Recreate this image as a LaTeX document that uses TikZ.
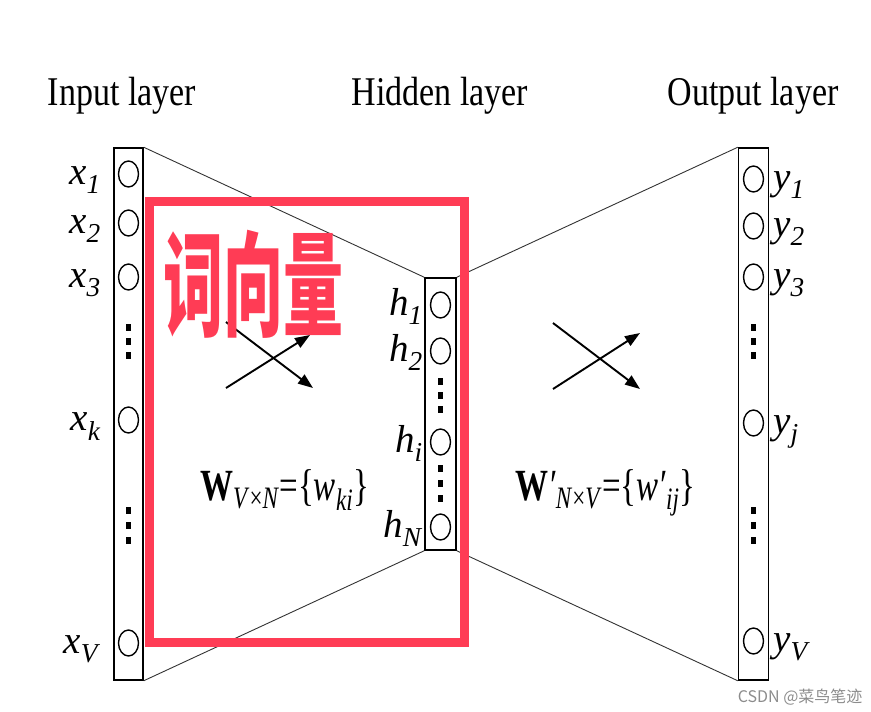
\documentclass[tikz,border=0pt]{standalone}
\usepackage{fontspec}
\setmainfont{Liberation Serif}
\newfontfamily\cjk{Noto Sans CJK SC}
\usetikzlibrary{shapes.geometric,arrows.meta}
\definecolor{markred}{RGB}{255,60,85}
\newcommand\nlbl[2]{\textit{#1}\textsubscript{\textit{#2}}}
\newcommand\stretched[2]{\scalebox{1}[#1]{#2}}
\begin{document}
\begin{tikzpicture}[
    x=1pt,y=-1pt,
    layer/.style={draw,line width=1.5pt,inner sep=0pt},
    unit/.style={draw,ellipse,line width=1.4pt,minimum width=20pt,minimum height=26pt,inner sep=0pt},
    vdot/.style={fill=black,minimum width=5.5pt,minimum height=7pt,inner sep=0pt},
    title/.style={font=\fontsize{34}{40}\selectfont,anchor=base},
    lbl/.style={font=\fontsize{39}{44}\selectfont,inner sep=0pt},
    wlbl/.style={font=\fontsize{33}{38}\selectfont,inner sep=0pt,anchor=base west},
    link/.style={black!80,line width=0.9pt},
    cross/.style={-{Triangle[length=15pt,width=11pt]},line width=1.9pt}
]
\useasboundingbox (0,0) rectangle (871,712);
% titles
\node[title] (tin) at (122,105) {\stretched{1.2}{Input layer}};
\node[title] (thid) at (440,105) {\stretched{1.2}{Hidden layer}};
\node[title] (tout) at (753,105) {\stretched{1.2}{Output layer}};
% layers
\node[layer,minimum width=29pt,minimum height=532pt] (inbox) at (128.5,414) {};
\node[layer,minimum width=31pt,minimum height=272pt] (hidbox) at (440.5,414) {};
\node[layer,minimum width=30pt,minimum height=532pt] (outbox) at (753.5,414) {};
\foreach \n/\y in {1/174,2/223,3/277,k/420,V/643} {
  \node[unit] (x\n) at (128.5,\y) {};
  \node[lbl,anchor=base east] (lx\n) at (101,\y+10) {\nlbl{x}{\n}};
}
\foreach \n/\y in {1/305,2/351,i/442,N/527} {
  \node[unit] (h\n) at (440.5,\y) {};
  \node[lbl,anchor=base east] (lh\n) at (423,\y+10) {\nlbl{h}{\n}};
}
\foreach \n/\y in {1/179,2/226,3/277,j/423,V/641} {
  \node[unit] (y\n) at (753.5,\y) {};
  \node[lbl,anchor=base west] (ly\n) at (773,\y+10) {\nlbl{y}{\n}};
}
\foreach \y in {327,341,355,510,525,540} {
  \node[vdot] (dx\y) at (128.5,\y) {};
  \node[vdot] (dy\y) at (753.5,\y) {};
}
\foreach \y in {381,395,409,468,483,498}
  \node[vdot] (dh\y) at (440.5,\y) {};
% connections between layers
\draw[link] (inbox.north east) -- (hidbox.north west);
\draw[link] (inbox.south east) -- (hidbox.south west);
\draw[link] (hidbox.north east) -- (outbox.north west);
\draw[link] (hidbox.south east) -- (outbox.south west);
% weight symbols
\coordinate (la) at (226,322); \coordinate (lb) at (313,388);
\coordinate (lc) at (226,388); \coordinate (ld) at (310,335);
\coordinate (ra) at (553,323); \coordinate (rb) at (640,389);
\coordinate (rc) at (553,389); \coordinate (rd) at (640,333);
\draw[cross] (la) -- (lb);
\draw[cross] (lc) -- (ld);
\draw[cross] (ra) -- (rb);
\draw[cross] (rc) -- (rd);
\node[wlbl] (wleft) at (200,500) {\stretched{1.35}{\textbf{W}\textsubscript{\textit{V}×\textit{N}}=\{\textit{w}\textsubscript{\textit{ki}}\}}};
\node[wlbl] (wright) at (515,500) {\stretched{1.35}{\textbf{W}\textit{′}\textsubscript{\textit{N}×\textit{V}}=\{\textit{w′}\textsubscript{\textit{ij}}\}}};
% hand-drawn mark
\node[draw=markred,line width=9pt,minimum width=315pt,minimum height=441pt,inner sep=0pt] (mark) at (306.5,421.5) {};
\node[text=markred,font=\cjk\bfseries\fontsize{60}{60}\selectfont,inner sep=0pt] (tag) at (253,284) {\stretched{1.9}{词向量}};
\node[anchor=east,text=black!45,font=\cjk\fontsize{16}{16}\selectfont] (wm) at (866,697) {CSDN @菜鸟笔迹};
\end{tikzpicture}
\end{document}
